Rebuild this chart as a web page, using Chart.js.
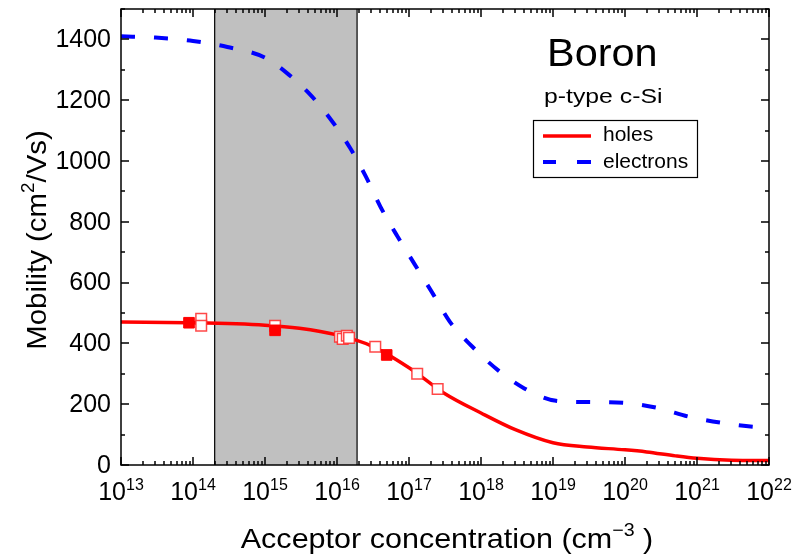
<!DOCTYPE html>
<html>
<head>
<meta charset="utf-8">
<script src="https://cdn.jsdelivr.net/npm/chart.js@4/dist/chart.umd.min.js"></script>
<style>
  body { margin: 0; background: #fff; }
  #wrap { width: 795px; height: 556px; }
</style>
</head>
<body>
<div id="wrap"><canvas id="myChart" width="795" height="556"></canvas></div>
<script>
// acceptor concentration (cm^-3) and mobility (cm^2/Vs)
var holesConc = [1e13, 1e14, 1e15, 3e15, 1e16, 3e16, 1e17, 3e17, 1e18, 3e18, 1e19, 3e19, 1e20, 2e20, 5e20, 1e21, 3e21, 1e22];
var holesMob  = [470, 468, 460, 450, 428, 392, 320, 238, 171, 116, 73, 59, 50, 43, 30, 22, 16, 15];

var electronsConc = [1e13, 3e13, 1e14, 3e14, 1e15, 2e15, 4e15, 8e15, 1.5e16, 2.5e16, 4e16, 7e16, 1.2e17, 2.1e17, 3.7e17, 7.6e17, 1.7e18, 4e18, 1.1e19, 3e19, 1e20, 2.8e20, 8e20, 2.3e21, 6.8e21, 1e22];
var electronsMob  = [1410, 1406, 1395, 1375, 1340, 1290, 1225, 1140, 1045, 950, 850, 750, 660, 567, 471, 389, 313, 252, 211, 207, 204, 188, 158, 138, 125, 124];

var filledConc = [8.8e13, 1.38e15, 4.9e16];
var filledMob  = [468, 443, 362];

var openConc = [1.3e14, 1.3e14, 1.38e15, 1.1e16, 1.2e16, 1.37e16, 1.47e16, 3.4e16, 1.3e17, 2.5e17];
var openMob  = [481, 458, 458, 422, 415, 425, 418, 389, 300, 250];

var shadeFrom = 2e14, shadeTo = 1.9e16;
var xPowers = [13, 14, 15, 16, 17, 18, 19, 20, 21, 22];
var yTickLabels = [0, 200, 400, 600, 800, 1000, 1200, 1400];
var legendLabels = ['holes', 'electrons'];

var red = '#ff0000';
var blue = '#0000ff';
var font = 'Arial, "Liberation Sans", sans-serif';

function pts(xs, ys) {
    return xs.map(function (x, i) { return {x: x, y: ys[i]}; });
}

// text with a raised exponent; hs stretches it horizontally like the original
function supText(ctx, parts, x, y, align, hs) {
    hs = hs || 1;
    var w = 0;
    parts.forEach(function (p) {
        ctx.font = p.size + 'px ' + font;
        p.w = ctx.measureText(p.t).width;
        w += p.w;
    });
    var cx = align === 'center' ? -w / 2 : (align === 'right' ? -w : 0);
    ctx.save();
    ctx.translate(x, y);
    ctx.scale(hs, 1);
    ctx.textAlign = 'left';
    ctx.textBaseline = 'alphabetic';
    parts.forEach(function (p) {
        ctx.font = p.size + 'px ' + font;
        ctx.fillText(p.t, cx, -(p.rise || 0));
        cx += p.w;
    });
    ctx.restore();
}

var decor = {
    id: 'decor',
    beforeDatasetsDraw: function (chart) {
        var ctx = chart.ctx, a = chart.chartArea, xs = chart.scales.x;
        var x0 = xs.getPixelForValue(shadeFrom), x1 = xs.getPixelForValue(shadeTo);
        ctx.save();
        ctx.fillStyle = '#c0c0c0';
        ctx.fillRect(x0, a.top, x1 - x0, a.bottom - a.top);
        ctx.strokeStyle = '#000';
        ctx.lineWidth = 1.2;
        ctx.beginPath();
        ctx.moveTo(x0, a.top); ctx.lineTo(x0, a.bottom);
        ctx.moveTo(x1, a.top); ctx.lineTo(x1, a.bottom);
        ctx.stroke();
        ctx.restore();
    },
    afterDatasetsDraw: function (chart) {
        var ctx = chart.ctx, a = chart.chartArea, xs = chart.scales.x, ys = chart.scales.y;
        ctx.save();
        ctx.strokeStyle = '#000';
        ctx.fillStyle = '#000';
        ctx.lineWidth = 1.5;
        ctx.strokeRect(a.left, a.top, a.right - a.left, a.bottom - a.top);

        // inward ticks on all four sides
        ctx.lineWidth = 1.5;
        ctx.beginPath();
        xPowers.forEach(function (p, i) {
            for (var m = 1; m <= 9; m++) {
                if (i === xPowers.length - 1 && m > 1) break;
                var px = Math.round(xs.getPixelForValue(m * Math.pow(10, p)));
                var len = m === 1 ? 8 : 4;
                ctx.moveTo(px, a.bottom); ctx.lineTo(px, a.bottom - len);
                ctx.moveTo(px, a.top); ctx.lineTo(px, a.top + len);
            }
        });
        for (var v = 0; v <= 1500; v += 100) {
            var py = Math.round(ys.getPixelForValue(v));
            var len = v % 200 === 0 ? 8 : 4;
            ctx.moveTo(a.left, py); ctx.lineTo(a.left + len, py);
            ctx.moveTo(a.right, py); ctx.lineTo(a.right - len, py);
        }
        ctx.stroke();

        // tick labels
        ctx.font = '25px ' + font;
        ctx.textAlign = 'right';
        ctx.textBaseline = 'middle';
        yTickLabels.forEach(function (v) {
            ctx.fillText(String(v), a.left - 10, ys.getPixelForValue(v) + 1);
        });
        xPowers.forEach(function (p) {
            supText(ctx, [{t: '10', size: 25}, {t: String(p), size: 16, rise: 10}],
                xs.getPixelForValue(Math.pow(10, p)), a.bottom + 35, 'center');
        });

        // axis titles
        supText(ctx, [{t: 'Acceptor concentration (cm', size: 28}, {t: '\u22123', size: 18, rise: 12}, {t: ' )', size: 28}],
            447, 548, 'center', 1.09);
        ctx.save();
        ctx.translate(46, 240);
        ctx.rotate(-Math.PI / 2);
        supText(ctx, [{t: 'Mobility (cm', size: 28}, {t: '2', size: 18, rise: 12}, {t: '/Vs)', size: 28}], 0, 0, 'center', 1.05);
        ctx.restore();

        // annotation
        supText(ctx, [{t: 'Boron', size: 38}], 547, 66, 'left', 1.09);
        supText(ctx, [{t: 'p-type c-Si', size: 21}], 544, 103, 'left', 1.18);

        // legend
        ctx.fillStyle = '#fff';
        ctx.fillRect(533, 120, 164, 57);
        ctx.strokeStyle = '#000';
        ctx.lineWidth = 1.2;
        ctx.strokeRect(533.5, 120.5, 164, 57);
        ctx.lineWidth = 3.5;
        ctx.strokeStyle = red;
        ctx.beginPath(); ctx.moveTo(543, 136); ctx.lineTo(591, 136); ctx.stroke();
        ctx.strokeStyle = blue;
        ctx.lineWidth = 4;
        ctx.beginPath();
        ctx.moveTo(543, 162); ctx.lineTo(556, 162);
        ctx.moveTo(577, 162); ctx.lineTo(591, 162);
        ctx.stroke();
        ctx.fillStyle = '#000';
        ctx.font = '21px ' + font;
        ctx.textAlign = 'left';
        ctx.textBaseline = 'middle';
        ctx.fillText(legendLabels[0], 603, 135);
        ctx.fillText(legendLabels[1], 603, 162);
        ctx.restore();
    }
};

new Chart(document.getElementById('myChart'), {
    type: 'line',
    data: {
        datasets: [{
            label: 'filled',
            type: 'scatter',
            data: pts(filledConc, filledMob),
            pointStyle: 'rect',
            pointRadius: 7.5,
            backgroundColor: red,
            borderColor: red,
            borderWidth: 1,
            order: 0
        }, {
            label: 'open',
            type: 'scatter',
            data: pts(openConc, openMob),
            pointStyle: 'rect',
            pointRadius: 7.5,
            backgroundColor: '#ffffff',
            borderColor: 'rgba(255,40,40,0.85)',
            borderWidth: 1.5,
            order: 1
        }, {
            label: legendLabels[0],
            data: pts(holesConc, holesMob),
            borderColor: red,
            borderWidth: 3.5,
            pointRadius: 0,
            cubicInterpolationMode: 'monotone',
            order: 2
        }, {
            label: legendLabels[1],
            data: pts(electronsConc, electronsMob),
            borderColor: blue,
            borderWidth: 4,
            borderDash: [14, 19],
            pointRadius: 0,
            cubicInterpolationMode: 'monotone',
            order: 3
        }]
    },
    options: {
        responsive: false,
        animation: false,
        layout: { padding: { left: 121, right: 26, top: 9, bottom: 91 } },
        scales: {
            x: { type: 'logarithmic', min: 1e13, max: 1e22, display: false },
            y: { type: 'linear', min: 0, max: 1500, display: false }
        },
        plugins: {
            legend: { display: false },
            tooltip: { enabled: false }
        }
    },
    plugins: [decor]
});
</script>
</body>
</html>
